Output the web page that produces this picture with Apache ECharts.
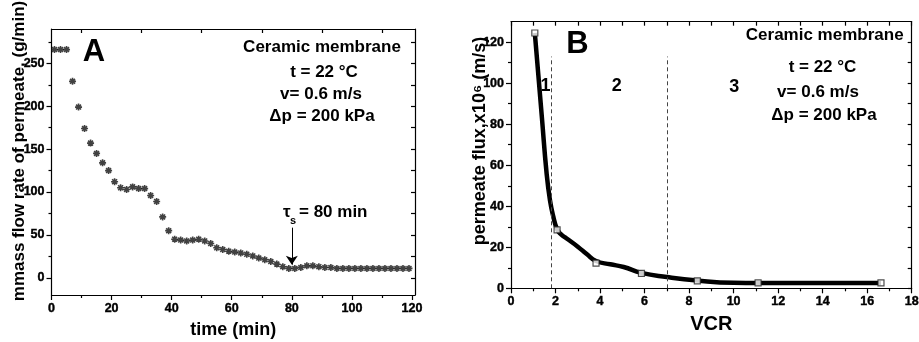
<!DOCTYPE html>
<html>
<head>
<meta charset="utf-8">
<script src="https://cdn.jsdelivr.net/npm/echarts@6.0.0/dist/echarts.min.js"></script>
<style>
  html, body { margin: 0; padding: 0; background: #fff; }
  #chart { width: 919px; height: 342px; }
</style>
</head>
<body>
<div id="chart"></div>
<script>
// panel A: permeate mass flow rate vs time
const timeMin = [1, 3, 5, 7, 9, 11, 13, 15, 17, 19,
  21, 23, 25, 27, 29, 31, 33, 35, 37, 39,
  41, 43, 45, 47, 49, 51, 53, 55, 57, 59,
  61, 63, 65, 67, 69, 71, 73, 75, 77, 79,
  81, 83, 85, 87, 89, 91, 93, 95, 97, 99,
  101, 103, 105, 107, 109, 111, 113, 115, 117, 119];
const flowRate = [266, 266, 266, 229, 199, 174, 157, 145, 134, 125,
  112, 105, 103, 106, 104, 104, 96, 89, 71, 55,
  45, 44, 43, 44, 45, 43, 40, 35, 33, 31,
  30, 29, 27.5, 25.5, 23, 21, 19, 16, 13, 11,
  11, 12, 14, 14, 13, 12, 12, 11, 11, 11,
  11, 11, 11, 11, 11, 11, 11, 11, 11, 11];

// panel B: permeate flux vs VCR (measured points + drawn curve)
const vcrPoints = [1.07, 2.07, 3.82, 5.86, 8.37, 11.1, 16.62];
const fluxPoints = [124.5, 28.5, 12.3, 7.3, 3.6, 2.6, 2.6];
const vcrCurve = [1.07, 1.39, 1.6, 1.75, 1.9, 2.07, 2.25, 2.5, 3.0, 3.4, 3.82, 4.46, 5.06, 5.86, 7.0, 8.37, 10.0, 11.1, 16.62];
const fluxCurve = [124.5, 83, 56, 43, 35, 28.8, 26.3, 24.3, 20.3, 16.7, 13.3, 11.7, 10.4, 7.5, 5.5, 3.8, 2.7, 2.6, 2.6];
const stageBounds = [1.8, 7];

// tick values
const timeTicks = [0, 20, 40, 60, 80, 100, 120];
const timeMinor = [10, 30, 50, 70, 90, 110];
const rateTicks = [0, 50, 100, 150, 200, 250];
const rateMinor = [25, 75, 125, 175, 225, 275];
const vcrTicks = [0, 2, 4, 6, 8, 10, 12, 14, 16, 18];
const vcrMinor = [1, 3, 5, 7, 9, 11, 13, 15, 17];
const fluxTicks = [0, 20, 40, 60, 80, 100, 120];
const fluxMinor = [10, 30, 50, 70, 90, 110];

const FONT = '"Liberation Sans", Arial, sans-serif';
const black = { color: '#000', width: 1.2 };

function mainAxis(gridIndex, range, ticks, pos, name, nameGap, nameStyle) {
  return {
    type: 'value', gridIndex, position: pos, min: range[0], max: range[1],
    splitLine: { show: false },
    axisLine: { show: true, onZero: false, lineStyle: black },
    axisTick: { show: true, inside: false, length: 5, customValues: ticks, lineStyle: black },
    axisLabel: { show: true, customValues: ticks, margin: 7, color: '#000',
      fontFamily: FONT, fontWeight: 'bold', fontSize: 12.5,
      textBorderColor: '#000', textBorderWidth: 0.4 },
    name, nameLocation: 'middle', nameGap, nameMoveOverlap: false,
    nameRotate: (pos === 'left') ? 90 : 0,
    nameTextStyle: Object.assign({ color: '#000', fontFamily: FONT, fontWeight: 'bold' }, nameStyle)
  };
}
function tickAxis(gridIndex, range, ticks, pos, inside, len, showLine) {
  return {
    type: 'value', gridIndex, position: pos, min: range[0], max: range[1],
    splitLine: { show: false },
    axisLine: { show: showLine, onZero: false, lineStyle: black },
    axisTick: { show: true, inside, length: len, customValues: ticks, lineStyle: black },
    axisLabel: { show: false }
  };
}

const rangeT = [0, 121], rangeR = [-20, 290];
const rangeV = [0, 18], rangeF = [0, 130];

function txt(x, y, text, size, align) {
  return { type: 'text', x, y, silent: true,
    style: { text, fill: '#000', font: 'bold ' + size + 'px ' + FONT,
      align: align || 'center', verticalAlign: 'middle' } };
}

const chart = echarts.init(document.getElementById('chart'));

const asterisk = 'path://M5 0V10M0 5H10M1.5 1.5L8.5 8.5M8.5 1.5L1.5 8.5';

chart.setOption({
  animation: false,
  backgroundColor: '#fff',
  grid: [
    { left: 51.5, top: 29, width: 363.5, height: 266, outerBoundsMode: 'none' },
    { left: 511, top: 21.7, width: 400.7, height: 266.6, outerBoundsMode: 'none' }
  ],
  xAxis: [
    mainAxis(0, rangeT, timeTicks, 'bottom', 'time (min)', 26, { fontSize: 18 }),
    tickAxis(0, rangeT, timeMinor, 'bottom', false, 3, false),
    tickAxis(0, rangeT, timeMinor, 'top', true, 4, true),
    mainAxis(1, rangeV, vcrTicks, 'bottom', 'VCR', 26, { fontSize: 20 }),
    tickAxis(1, rangeV, vcrMinor, 'bottom', false, 3, false),
    tickAxis(1, rangeV, vcrTicks.concat(vcrMinor), 'top', true, 4, true)
  ],
  yAxis: [
    mainAxis(0, rangeR, rateTicks, 'left', 'mmass flow rate of permeate, (g/min)', 24,
      { fontSize: 17, padding: [0, 0, 0, 22] }),
    tickAxis(0, rangeR, rateMinor, 'left', false, 3, false),
    tickAxis(0, rangeR, rateTicks.concat(rateMinor), 'right', true, 4, true),
    mainAxis(1, rangeF, fluxTicks, 'left', 'permeate flux,x10\u2076 (m/s)', 22,
      { fontSize: 18, padding: [0, 0, 0, 28] }),
    tickAxis(1, rangeF, fluxMinor, 'left', false, 3, false),
    tickAxis(1, rangeF, fluxTicks.concat(fluxMinor), 'right', true, 4, true)
  ],
  series: [
    {
      type: 'scatter', xAxisIndex: 0, yAxisIndex: 0,
      data: timeMin.map((t, i) => [t, flowRate[i]]),
      symbol: asterisk, symbolSize: 7,
      itemStyle: { color: 'rgba(0,0,0,0)', borderColor: '#111', borderWidth: 1.6 },
      markLine: {
        silent: true, symbol: ['none', 'arrow'], symbolSize: 9,
        label: { show: false },
        lineStyle: { color: '#000', width: 1, type: 'solid' },
        data: [[{ coord: [80, 58.5] }, { coord: [80, 15.3] }]]
      }
    },
    {
      type: 'line', xAxisIndex: 3, yAxisIndex: 3,
      data: vcrCurve.map((v, i) => [v, fluxCurve[i]]),
      showSymbol: false, smooth: 0.5,
      lineStyle: { color: '#000', width: 4.5 },
      markLine: {
        silent: true, symbol: ['none', 'none'],
        label: { show: false },
        lineStyle: { color: '#444', width: 1, type: [4, 3] },
        data: stageBounds.map(b => [{ coord: [b, 0] }, { coord: [b, 113] }])
      }
    },
    {
      type: 'scatter', xAxisIndex: 3, yAxisIndex: 3, z: 5,
      data: vcrPoints.map((v, i) => [v, fluxPoints[i]]),
      symbol: 'rect', symbolSize: 6,
      itemStyle: { color: '#fff', borderColor: '#222', borderWidth: 1.2 }
    }
  ],
  graphic: [
    txt(94, 52, 'A', 31),
    txt(322, 47, 'Ceramic membrane', 17),
    txt(324, 72, 't = 22 \u00b0C', 17),
    txt(321, 94.5, 'v= 0.6 m/s', 17),
    txt(322, 116.5, '\u0394p = 200 kPa', 17),
    txt(283, 212, '\u03c4', 17, 'left'),
    txt(290, 220.5, 's', 11, 'left'),
    txt(299, 212, '= 80 min', 17, 'left'),
    txt(577.5, 44.7, 'B', 31),
    txt(824.7, 35.5, 'Ceramic membrane', 17),
    txt(822.5, 67.5, 't = 22 \u00b0C', 17),
    txt(818, 92.5, 'v= 0.6 m/s', 17),
    txt(824, 115.7, '\u0394p = 200 kPa', 17),
    txt(545.5, 86, '1', 18),
    txt(616.7, 86, '2', 18),
    txt(734.3, 87, '3', 18)
  ]
});
</script>
</body>
</html>
